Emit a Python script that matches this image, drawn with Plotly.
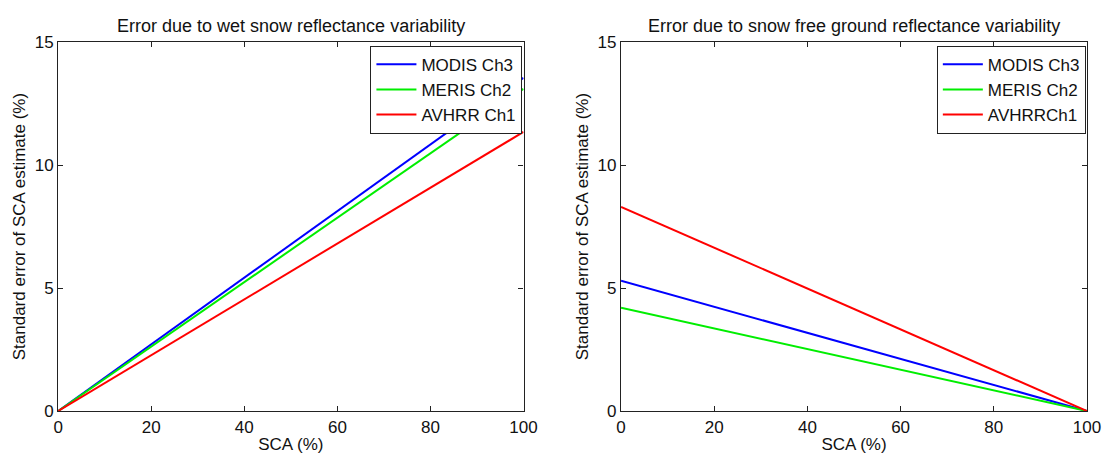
import plotly.graph_objects as go

# SCA axis endpoints (%)
sca = [0, 100]

# Standard error at SCA = 0 and SCA = 100 (%)
wet_modis = [0, 13.55]
wet_meris = [0, 13.1]
wet_avhrr = [0, 11.35]

ground_modis = [5.3, 0]
ground_meris = [4.2, 0]
ground_avhrr = [8.3, 0]

left_names = ["MODIS Ch3", "MERIS Ch2", "AVHRR Ch1"]
right_names = ["MODIS Ch3", "MERIS Ch2", "AVHRRCh1"]
colors = ["#0000ff", "#00ee00", "#ff0000"]

titles = ["Error due to wet snow reflectance variability",
          "Error due to snow free ground reflectance variability"]

FONT = "Liberation Sans, Arial, sans-serif"
FS = 17

fig = go.Figure()

for ys, name, c in zip([wet_modis, wet_meris, wet_avhrr], left_names, colors):
    fig.add_trace(go.Scatter(x=sca, y=ys, mode="lines", name=name,
                             line=dict(color=c, width=2), legend="legend",
                             xaxis="x", yaxis="y"))
for ys, name, c in zip([ground_modis, ground_meris, ground_avhrr], right_names, colors):
    fig.add_trace(go.Scatter(x=sca, y=ys, mode="lines", name=name,
                             line=dict(color=c, width=2), legend="legend2",
                             xaxis="x2", yaxis="y2"))

axis_common = dict(showgrid=False, zeroline=False, showline=True, linecolor="#222",
                   linewidth=1.3, mirror="ticks", ticks="inside", ticklen=5,
                   tickcolor="#222", automargin=False,
                   tickfont=dict(size=FS, color="#111", family=FONT))

ydom = [0.1026, 0.908]
xtitle = dict(text="SCA (%)", font=dict(size=FS), standoff=2)
ytitle = dict(text="Standard error of SCA estimate (%)", font=dict(size=FS), standoff=4)
fig.update_layout(
    width=1108, height=458,
    margin=dict(l=0, r=0, t=0, b=0, autoexpand=False),
    paper_bgcolor="white", plot_bgcolor="white",
    font=dict(family=FONT, color="#111"),
    xaxis=dict(domain=[0.0525, 0.4725], range=[0, 100], dtick=20,
               title=xtitle, **axis_common),
    yaxis=dict(domain=ydom, range=[0, 15], dtick=5, title=ytitle, **axis_common),
    xaxis2=dict(domain=[0.5605, 0.981], range=[0, 100], dtick=20, anchor="y2",
                title=xtitle, **axis_common),
    yaxis2=dict(domain=ydom, range=[0, 15], dtick=5, anchor="x2",
                title=ytitle, **axis_common),
    legend=dict(x=0.4715, y=0.9, xanchor="right", yanchor="top",
                bgcolor="white", bordercolor="#222", borderwidth=1,
                font=dict(size=FS, family=FONT), tracegroupgap=0,
                itemwidth=40),
    legend2=dict(x=0.98, y=0.9, xanchor="right", yanchor="top",
                 bgcolor="white", bordercolor="#222", borderwidth=1,
                 font=dict(size=FS, family=FONT), tracegroupgap=0,
                 itemwidth=40),
    showlegend=True,
)

for x, t in zip([0.2625, 0.771], titles):
    fig.add_annotation(text=t, x=x, y=0.918, xref="paper", yref="paper",
                       xanchor="center", yanchor="bottom", showarrow=False,
                       font=dict(size=18, family=FONT, color="#111"))

fig.write_html("out.html")
